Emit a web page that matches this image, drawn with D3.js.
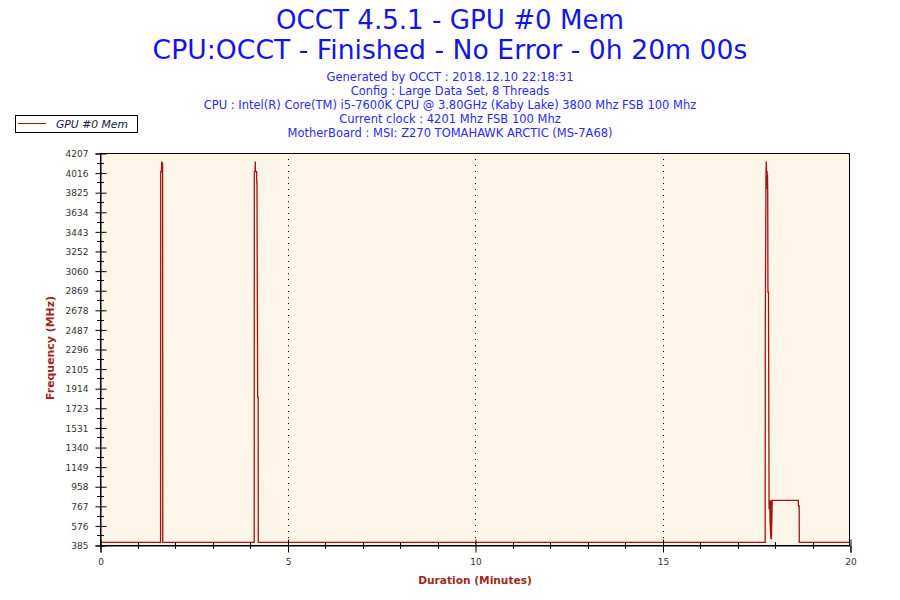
<!DOCTYPE html>
<html>
<head>
<meta charset="utf-8">
<script src="https://cdn.jsdelivr.net/npm/d3@7"></script>
<style>
  html, body { margin: 0; padding: 0; background: #ffffff; }
  svg { display: block; }
</style>
</head>
<body>
<svg id="chart" width="900" height="600"></svg>
<script>
// ---------------- DATA ----------------
const titleLines = ["OCCT 4.5.1 - GPU #0 Mem", "CPU:OCCT - Finished - No Error - 0h 20m 00s"];
const infoLines = [
  "Generated by OCCT : 2018.12.10 22:18:31",
  "Config : Large Data Set, 8 Threads",
  "CPU : Intel(R) Core(TM) i5-7600K CPU @ 3.80GHz (Kaby Lake) 3800 Mhz FSB 100 Mhz",
  "Current clock : 4201 Mhz FSB 100 Mhz",
  "MotherBoard : MSI: Z270 TOMAHAWK ARCTIC (MS-7A68)"
];
const seriesName = "GPU #0 Mem";
const xLabel = "Duration (Minutes)";
const yLabel = "Frequency (MHz)";
const yTicks = [385, 576, 767, 958, 1149, 1340, 1531, 1723, 1914, 2105, 2296, 2487, 2678, 2869, 3060, 3252, 3443, 3634, 3825, 4016, 4207];
const xTicks = [0, 5, 10, 15, 20];
const xMinorTicks = [1, 2, 3, 4, 6, 7, 8, 9, 11, 12, 13, 14, 16, 17, 18, 19];
// time in minutes
const times = [
  0, 1.615, 1.619, 1.638, 1.645, 1.650, 1.670, 1.673,
  4.112, 4.115, 4.135, 4.141, 4.147, 4.176, 4.180, 4.186, 4.204, 4.218, 4.221,
  17.738, 17.741, 17.760, 17.768, 17.775, 17.788, 17.793, 17.800, 17.806, 17.812, 17.826,
  17.842, 17.865, 17.868, 17.893, 17.900, 17.905, 17.926, 18.621, 18.624, 18.645, 18.648, 20
];
// GPU memory clock in MHz
const freqs = [
  405, 405, 4020, 4020, 4119, 4104, 4104, 405,
  405, 4020, 4020, 4119, 4020, 4020, 3917, 3917, 1821, 1821, 405,
  405, 2523, 4020, 4119, 4020, 4020, 3850, 3990, 3800, 2845, 2845,
  728, 816, 602, 437, 816, 437, 816, 816, 761, 761, 405, 405
];

// ---------------- CHART ----------------
const svg = d3.select("#chart");
const plot = { left: 100, right: 850, top: 153, bottom: 545 };
const x = d3.scaleLinear().domain([0, 20]).range([plot.left, plot.right]);
const y = d3.scaleLinear().domain([385, 4207]).range([plot.bottom, plot.top]);

const FONT = "'DejaVu Sans', Verdana, sans-serif";

function fit(sel, w) {
  const cur = sel.node().getComputedTextLength();
  const fs = parseFloat(sel.attr("font-size"));
  sel.attr("font-size", fs * w / cur);
}

// titles
const t1 = svg.append("text").attr("x", 450).attr("y", 29).attr("text-anchor", "middle")
  .attr("font-family", FONT).attr("font-size", 24).attr("fill", "#1414e8").text(titleLines[0]);
fit(t1, 348);
const t2 = svg.append("text").attr("x", 450).attr("y", 59).attr("text-anchor", "middle")
  .attr("font-family", FONT).attr("font-size", 24).attr("fill", "#1414e8").text(titleLines[1]);
fit(t2, 595);

const info = svg.append("g");
infoLines.forEach((s, i) => {
  info.append("text").attr("x", 450).attr("y", 81 + i * 14).attr("text-anchor", "middle")
    .attr("font-family", FONT).attr("font-size", 11).attr("fill", "#2a2af0").text(s);
});
{
  const cpu = info.selectAll("text").filter((d, i) => i === 2);
  const cur = cpu.node().getComputedTextLength();
  const fs = 11 * 493 / cur;
  info.selectAll("text").attr("font-size", fs);
}

// legend
svg.append("rect").attr("x", 15.5).attr("y", 115.5).attr("width", 122).attr("height", 17)
  .attr("fill", "#ffffff").attr("stroke", "#000").attr("stroke-width", 1);
svg.append("line").attr("x1", 18).attr("x2", 46).attr("y1", 123.5).attr("y2", 123.5)
  .attr("stroke", "#a01414").attr("stroke-width", 1);
const lt = svg.append("text").attr("x", 56).attr("y", 128).attr("font-family", FONT)
  .attr("font-style", "italic").attr("font-size", 11).attr("fill", "#1a1a3a").text(seriesName);
fit(lt, 72);

// plot background
svg.append("rect").attr("x", plot.left).attr("y", plot.top)
  .attr("width", plot.right - plot.left).attr("height", plot.bottom - plot.top)
  .attr("fill", "#fdf6e8");

// vertical dotted grid
svg.append("g").selectAll("line").data(xTicks.filter(d => d > 0 && d < 20)).join("line")
  .attr("x1", d => Math.round(x(d)) + 0.5).attr("x2", d => Math.round(x(d)) + 0.5)
  .attr("y1", plot.top).attr("y2", plot.bottom)
  .attr("stroke", "#000").attr("stroke-width", 1).attr("stroke-dasharray", "1,5");

// data line
const pts = times.map((t, i) => [t, freqs[i]]);
svg.append("path").datum(pts)
  .attr("d", d3.line().x(d => x(d[0])).y(d => y(d[1]) - 0.5))
  .attr("fill", "none").attr("stroke", "#a01414").attr("stroke-width", 1.3);

// frame
svg.append("rect").attr("x", plot.left + 0.5).attr("y", plot.top + 0.5)
  .attr("width", plot.right - plot.left - 1).attr("height", plot.bottom - plot.top)
  .attr("fill", "none").attr("stroke", "#000").attr("stroke-width", 1);

// Y axis
const yAxis = d3.axisLeft(y).tickValues(yTicks).tickFormat(d => String(d)).tickSize(5).tickPadding(7);
const gy = svg.append("g").attr("transform", `translate(${plot.left + 0.5},0.5)`).call(yAxis);
gy.select(".domain").attr("stroke", "#000");
gy.selectAll(".tick line").attr("x2", -5).attr("x1", 6).attr("stroke", "#000");
gy.selectAll(".tick text").attr("font-family", FONT).attr("font-size", 9).attr("fill", "#333")
  .attr("dy", "0.35em");
const yMinor = yTicks.slice(0, -1).map((v, i) => (v + yTicks[i + 1]) / 2);
svg.append("g").selectAll("line").data(yMinor).join("line")
  .attr("x1", plot.left - 3).attr("x2", plot.left + 4)
  .attr("y1", d => Math.round(y(d)) + 0.5).attr("y2", d => Math.round(y(d)) + 0.5)
  .attr("stroke", "#000");

// X axis
const xAxis = d3.axisBottom(x).tickValues(xTicks).tickFormat(d => String(d)).tickSize(7).tickPadding(6);
const gx = svg.append("g").attr("transform", `translate(0.5,${plot.bottom + 0.5})`).call(xAxis);
gx.select(".domain").attr("stroke", "#000");
gx.selectAll(".tick line").attr("y1", -6).attr("y2", 7).attr("stroke", "#000");
gx.selectAll(".tick text").attr("font-family", FONT).attr("font-size", 9).attr("fill", "#333");
svg.append("g").selectAll("line").data(xMinorTicks).join("line")
  .attr("x1", d => Math.round(x(d)) + 0.5).attr("x2", d => Math.round(x(d)) + 0.5)
  .attr("y1", plot.bottom - 3).attr("y2", plot.bottom + 4)
  .attr("stroke", "#000");

// axis titles
const xl = svg.append("text").attr("x", 475).attr("y", 584).attr("text-anchor", "middle")
  .attr("font-family", FONT).attr("font-weight", "bold").attr("font-size", 12)
  .attr("fill", "#a0281e").text(xLabel);
fit(xl, 114);
const yl = svg.append("text").attr("transform", "translate(54,348) rotate(-90)")
  .attr("text-anchor", "middle")
  .attr("font-family", FONT).attr("font-weight", "bold").attr("font-size", 12)
  .attr("fill", "#a0281e").text(yLabel);
fit(yl, 104);
</script>
</body>
</html>
